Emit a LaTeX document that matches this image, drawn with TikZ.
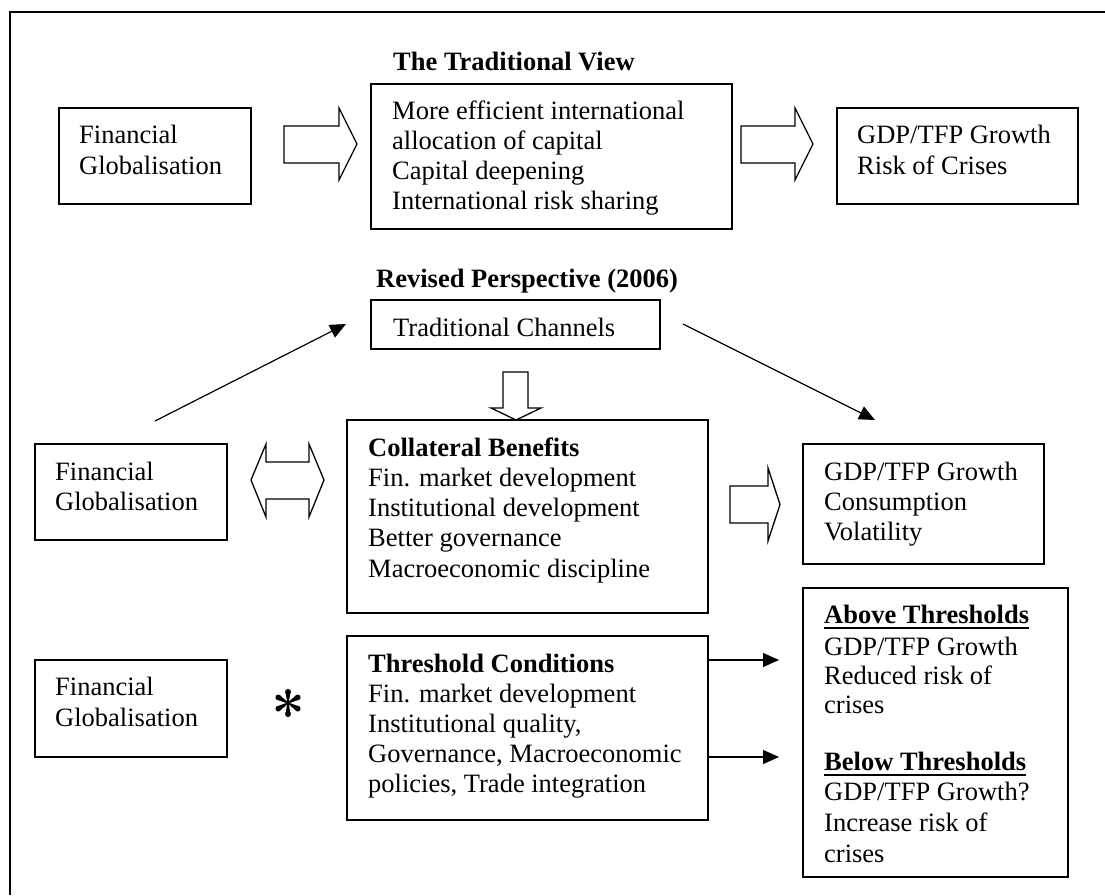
\documentclass[tikz,border=0pt]{standalone}
\usepackage{fontspec}
\setmainfont{Liberation Serif}
\usetikzlibrary{arrows.meta}
\newcommand\myul[1]{\setbox0\hbox{#1}\rlap{\raisebox{-6pt}{\rule{\wd0}{2.4pt}}}\box0}
\begin{document}
\begin{tikzpicture}[x=1pt,y=-1pt,
  box/.style={draw, line width=1.3pt, inner sep=0pt, outer sep=0pt, anchor=north west},
  txt/.style={inner sep=0pt, anchor=base west, font=\fontsize{26.5}{30}\selectfont},
  bold/.style={txt, font=\fontsize{26.5}{30}\selectfont\bfseries},
  blk/.style={draw, line width=1.3pt, fill=white, line join=miter},
  thin/.style={line width=1.2pt, -{Triangle[length=16pt,width=14pt]}},
  frame/.style={line width=1.6pt}]
\useasboundingbox (0,0) rectangle (1105,895);
% outer frame (cropped)
\draw[frame] (10,895) -- (10,12) -- (1105,12);

% ---------- The Traditional View ----------
\node[bold] (title1) at (393,70) {The Traditional View};
\node[box, minimum width=192pt, minimum height=96pt] (b1) at (59,108) {};
\node[box, minimum width=361pt, minimum height=145pt] (b2) at (371,84) {};
\node[box, minimum width=241pt, minimum height=96pt] (b3) at (837,108) {};
\foreach \s [count=\i from 0] in {Financial,Globalisation}
  \node[txt] (b1t\i) at (79,143+31*\i) {\s};
\foreach \s [count=\i from 0] in {More efficient international,allocation of capital,Capital deepening,International risk sharing}
  \node[txt] (b2t\i) at (392,119+30*\i) {\s};
\foreach \s [count=\i from 0] in {GDP/TFP Growth,Risk of Crises}
  \node[txt] (b3t\i) at (857,143+31*\i) {\s};
% block arrows
\draw[blk] (284,126) -- (339,126) -- (339,108) -- (357,144) -- (339,180) -- (339,163) -- (284,163) -- cycle;
\draw[blk] (741,126) -- (795,126) -- (795,108) -- (813,144) -- (795,180) -- (795,163) -- (741,163) -- cycle;

% ---------- Revised Perspective ----------
\node[bold] (title2) at (376,287) {Revised Perspective (2006)};
\node[box, minimum width=289pt, minimum height=49pt] (tc) at (371,300) {};
\node[txt] (tct) at (393,336) {Traditional Channels};

\node[box, minimum width=192pt, minimum height=96pt] (fg2) at (35,444) {};
\foreach \s [count=\i from 0] in {Financial,Globalisation}
  \node[txt] (fg2t\i) at (55,480+30*\i) {\s};

\node[box, minimum width=361pt, minimum height=193pt] (cb) at (347,420) {};
\node[bold] (cbt0) at (368,456) {Collateral Benefits};
\foreach \s [count=\i from 1] in {Fin. market development,Institutional development,Better governance,Macroeconomic discipline}
  \node[txt] (cbt\i) at (368,456+30.3*\i) {\s};

\node[box, minimum width=241pt, minimum height=120pt] (gdp2) at (803,444) {};
\foreach \s [count=\i from 0] in {GDP/TFP Growth,Consumption,Volatility}
  \node[txt] (gdp2t\i) at (824,480+30*\i) {\s};

% thin arrows
\coordinate (a1s) at (155,421);
\coordinate (a1e) at (346,324);
\coordinate (a2s) at (683,324);
\coordinate (a2e) at (875,420);
\draw[thin] (a1s) -- (a1e);
\draw[thin] (a2s) -- (a2e);

% block arrows
\draw[blk] (503,372) -- (528,372) -- (528,408) -- (541,408) -- (516,420) -- (491,408) -- (503,408) -- cycle;
\draw[blk] (251,480) -- (266,444) -- (266,462) -- (309,462) -- (309,444) -- (324,480) -- (309,517) -- (309,499) -- (266,499) -- (266,517) -- cycle;
\draw[blk] (730,486) -- (768,486) -- (768,468) -- (780,504.5) -- (768,541) -- (768,523) -- (730,523) -- cycle;

% ---------- Threshold ----------
\node[box, minimum width=192pt, minimum height=97pt] (fg3) at (35,660) {};
\foreach \s [count=\i from 0] in {Financial,Globalisation}
  \node[txt] (fg3t\i) at (55,695+31*\i) {\s};

% asterisk
\foreach \a in {90,30,-30,-90,150,210}{
  \fill[shift={(288,703)}, rotate=\a] (0,-0.6) -- (0,0.6) -- (11,2.6) -- (11,-2.6) -- cycle;
  \fill[shift={(288,703)}, rotate=\a] (11.2,0) circle (2.9);
}

\node[box, minimum width=361pt, minimum height=184pt] (thr) at (347,636) {};
\node[bold] (thrt0) at (368,672) {Threshold Conditions};
\foreach \s [count=\i from 1] in {Fin. market development,{Institutional quality,},{Governance, Macroeconomic},{policies, Trade integration}}
  \node[txt] (thrt\i) at (368,672+30.2*\i) {\s};

\node[box, minimum width=265pt, minimum height=289pt] (res) at (803,588) {};
\node[bold] (rest0) at (824,623) {\myul{Above Thresholds}};
\node[txt] (rest1) at (824,655) {GDP/TFP Growth};
\node[txt] (rest2) at (824,684) {Reduced risk of};
\node[txt] (rest3) at (824,713) {crises};
\node[bold] (rest4) at (824,770) {\myul{Below Thresholds}};
\node[txt] (rest5) at (824,800) {GDP/TFP Growth?};
\node[txt] (rest6) at (824,831) {Increase risk of};
\node[txt] (rest7) at (824,862) {crises};

\coordinate (a3s) at (708,660);
\coordinate (a3e) at (779,660);
\coordinate (a4s) at (708,757);
\coordinate (a4e) at (779,757);
\draw[thin] (a3s) -- (a3e);
\draw[thin] (a4s) -- (a4e);
\end{tikzpicture}
\end{document}
